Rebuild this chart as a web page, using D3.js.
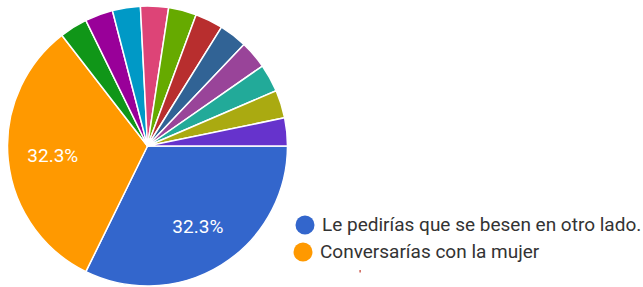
<!DOCTYPE html>
<html><head><meta charset="utf-8">
<script src="https://cdn.jsdelivr.net/npm/d3@7"></script>
<style>body{margin:0;background:#fff;}svg{display:block;}</style>
</head><body>
<script>
const categories = ["Le pedirías que se besen en otro lado.", "Conversarías con la mujer",
  "Opción 3","Opción 4","Opción 5","Opción 6","Opción 7","Opción 8","Opción 9","Opción 10","Opción 11","Opción 12","Opción 13"];
const values = [10, 10, 1, 1, 1, 1, 1, 1, 1, 1, 1, 1, 1];
const colors = ["#3366cc","#ff9900","#109618","#990099","#0099c6","#dd4477","#66aa00","#b82e2e","#316395","#994499","#22aa99","#aaaa11","#6633cc"];
const legendItems = [0, 1];

const W = 643, H = 287;
const svg = d3.select("body").append("svg").attr("width", W).attr("height", H);
const cx = 147.5, cy = 146, r = 140;
const total = d3.sum(values);
const pie = d3.pie().sort(null).startAngle(Math.PI/2).endAngle(Math.PI/2 + 2*Math.PI);
const arcs = pie(values);
const arc = d3.arc().innerRadius(0).outerRadius(r);
const g = svg.append("g").attr("transform", `translate(${cx},${cy})`);
g.selectAll("path").data(arcs).join("path")
  .attr("d", arc).attr("fill", (d,i) => colors[i])
  .attr("stroke", "#fff").attr("stroke-width", 1.5).attr("stroke-linejoin","round");
const labelArc = d3.arc().innerRadius(r*0.68).outerRadius(r*0.68);
g.selectAll("text").data(arcs.filter(d => d.value/total > 0.05)).join("text")
  .attr("transform", d => `translate(${labelArc.centroid(d)})`)
  .attr("text-anchor", "middle").attr("dy", "0.35em")
  .attr("fill", "#fff").attr("font-family", "Roboto, Arial, sans-serif").attr("font-size", 19)
  .text(d => (d.value/total*100).toFixed(1) + "%");

const leg = svg.append("g");
const ly = [225, 252];
const lx = [305, 303];
legendItems.forEach((i, k) => {
  leg.append("circle").attr("cx", lx[k]).attr("cy", ly[k]).attr("r", 9.5).attr("fill", colors[i]);
  leg.append("text").attr("x", lx[k] + 17).attr("y", ly[k] + 6)
    .attr("fill", "#333").attr("font-family", "Roboto, Arial, sans-serif").attr("font-size", 19)
    .text(categories[i]);
});
leg.append("rect").attr("x", 359.5).attr("y", 270).attr("width", 1.2).attr("height", 2.5).attr("fill", "#c0392b");
</script>
</body></html>
